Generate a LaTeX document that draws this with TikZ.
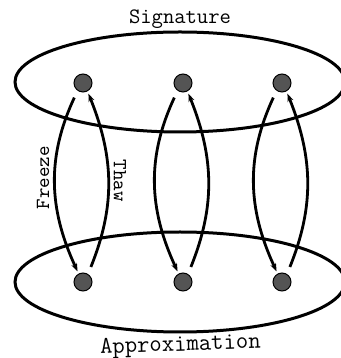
\documentclass[tikz,border=0pt]{standalone}
\usetikzlibrary{arrows.meta, positioning, shapes.geometric}

\begin{document}
\begin{tikzpicture}[
    x=0.5pt, y=0.5pt,
    setshape/.style={draw, ellipse, line width=1.5pt, minimum width=165pt, minimum height=50pt, inner sep=0pt},
    elem/.style={draw, circle, fill=black!67, line width=0.5pt, minimum size=9pt, inner sep=0pt, outer sep=1.5pt},
    settitle/.style={font=\ttfamily\fontsize{11}{13}\selectfont, inner sep=1pt},
    arclabel/.style={font=\ttfamily\fontsize{10}{12}\selectfont},
    mapping/.style={draw, line width=1.4pt, shorten <=2.5pt, -{Stealth[length=4pt, width=3pt]}}
]
    \useasboundingbox (0,0) rectangle (341,358);

    \node[setshape] (sig) at (180,276) {};
    \node[setshape] (appr) at (180,76) {};
    \node[settitle, above=0pt of sig] (sigtext) {Signature};
    \node[settitle, font=\ttfamily\fontsize{12}{14}\selectfont, below=0pt of appr, rotate=2] (apprtext) {Approximation};

    \foreach \i/\x in {1/83, 2/183, 3/282} {
        \node[elem] (s\i) at (\x,275) {};
        \node[elem] (a\i) at (\x,76) {};
        \draw[mapping] (s\i.237) to[out=245, in=115] (a\i.117);
        \draw[mapping] (a\i.60) to[out=68, in=-68] (s\i.-63);
    }

    \node[arclabel, rotate=90] (freeze) at (43,180) {Freeze};
    \node[arclabel, rotate=-90] (thaw) at (120,177) {Thaw};
\end{tikzpicture}
\end{document}
